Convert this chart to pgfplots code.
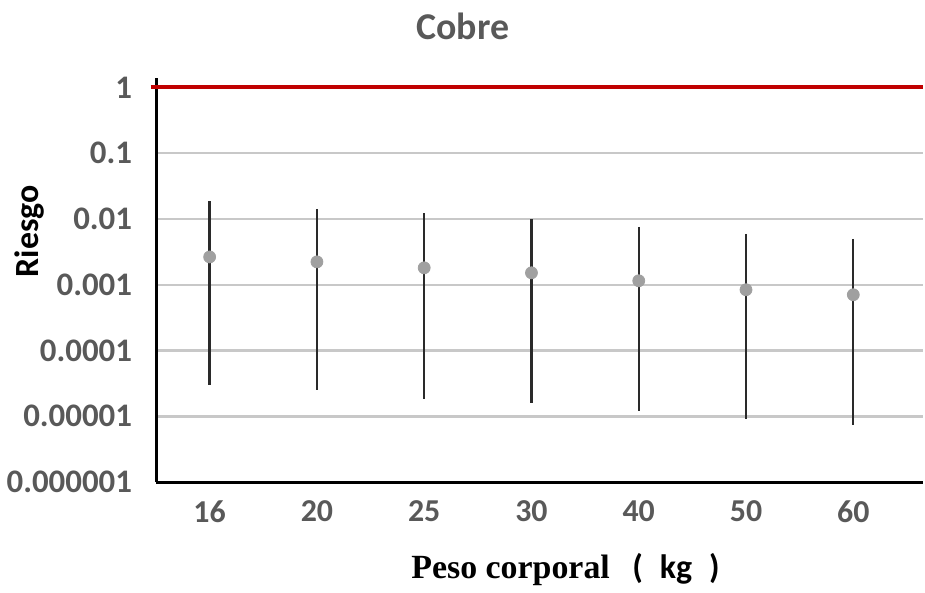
\documentclass[border=0pt]{standalone}
\usepackage{pgfplots}
\pgfplotsset{compat=1.18}
\usepackage{fontspec}
\setmainfont{Carlito}
\newfontfamily\serifb{Liberation Serif}
\definecolor{tickgray}{HTML}{595959}
\definecolor{gridgray}{HTML}{C8C8C8}
\definecolor{barline}{HTML}{2A2A2A}
\definecolor{ptgray}{HTML}{A0A0A0}
\definecolor{redline}{HTML}{C00000}
\begin{document}
\begin{tikzpicture}
\begin{axis}[
  scale only axis,
  width=385pt, height=203pt,
  ymode=log,
  ymin=1e-6, ymax=1.41,
  xmin=-0.5, xmax=6.65,
  clip=false,
  axis x line*=bottom, axis y line*=left,
  axis line style={-, black, line width=1.5pt},
  xtick={0,1,2,3,4,5,6},
  xticklabels={16,20,25,30,40,50,60},
  ytick={1e-6,1e-5,1e-4,1e-3,1e-2,1e-1,1},
  yticklabels={0.000001,0.00001,0.0001,0.001,0.01,0.1,1},
  yminorticks=false,
  major tick length=0pt,
  ymajorgrids,
  major grid style={gridgray, line width=1.2pt},
  tick label style={font=\fontsize{16.5}{18}\selectfont\bfseries, text=tickgray},
  xticklabel style={font=\fontsize{16}{18}\selectfont\bfseries, yshift=-6pt},
  yticklabel style={xshift=-8.5pt},
  title={Cobre},
  title style={at={(axis description cs:0.4,1.098)}, anchor=center, font=\fontsize{19}{22}\selectfont\bfseries, text=tickgray},
  xlabel={{\serifb\bfseries Peso corporal}\enspace\,(\enspace kg\enspace)},
  xlabel style={at={(axis description cs:0.534,-0.217)}, anchor=center, font=\fontsize{17}{20}\selectfont\bfseries, text=black},
  ylabel={Riesgo},
  ylabel style={at={(axis description cs:-0.165,0.62)}, anchor=center, font=\fontsize{17}{20}\selectfont\bfseries, text=black},
]
\path (axis description cs:0.4,1.192) (axis description cs:0.4,1.192);
\addplot[redline, line width=2pt, no marks] coordinates {(-0.55,1) (6.65,1)};
\addplot[barline, line width=1.2pt, no marks, unbounded coords=jump] coordinates {
(0,0.0187) (0,2.95e-5) (0,nan)
(1,0.0142) (1,2.48e-5) (1,nan)
(2,0.0123) (2,1.81e-5) (2,nan)
(3,0.0100) (3,1.57e-5) (3,nan)
(4,0.00757) (4,1.19e-5) (4,nan)
(5,0.00593) (5,9.0e-6) (5,nan)
(6,0.00498) (6,7.3e-6)
};
\addplot[only marks, mark=*, mark size=3pt, mark options={fill=ptgray, draw=ptgray}] coordinates {
(0,0.00265) (1,0.00223) (2,0.00181) (3,0.00152) (4,0.00115) (5,0.00084) (6,0.000705)
};
\end{axis}
\end{tikzpicture}
\end{document}
